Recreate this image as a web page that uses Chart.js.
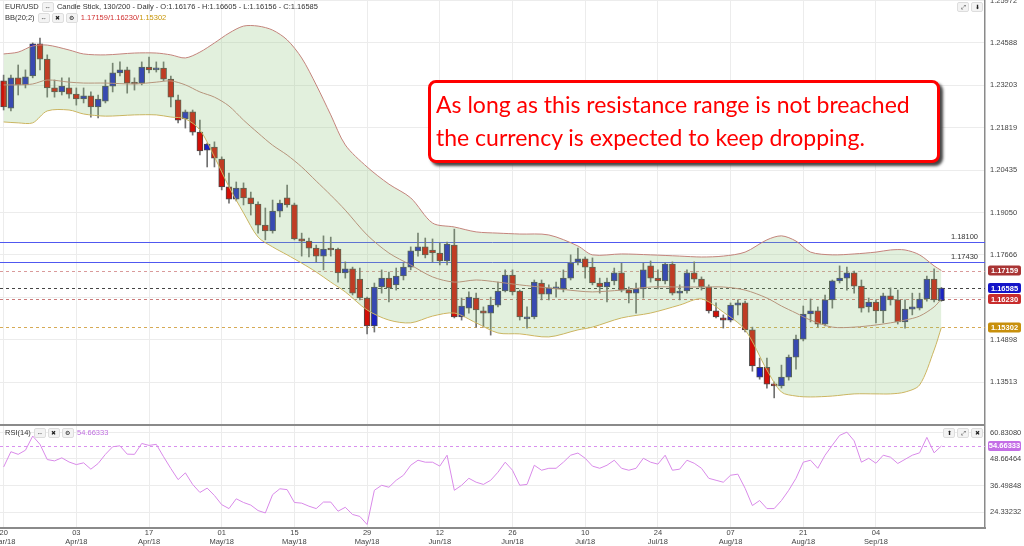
<!DOCTYPE html>
<html lang="en">
<head>
<meta charset="UTF-8" />
<title>EUR/USD Daily - Candle Stick</title>
<script src="https://cdn.jsdelivr.net/npm/chart.js"></script>
<style>
  body { margin: 0; background: #fff; font-family: "Liberation Sans", Arial, sans-serif; }
  #wrap { position: relative; width: 1024px; height: 546px; overflow: hidden; }
  .pane { position: absolute; left: 0; width: 1024px; }
  .hdr { position: absolute; left: 5px; font-size: 7.5px; color: #333; white-space: nowrap; }
  .btn { display: inline-block; width: 10px; height: 8px; line-height: 8px; text-align: center;
         font-size: 6px; background: #f3f3f3; border: 1px solid #ddd; border-radius: 2px;
         margin: 0 1px; vertical-align: middle; color: #222; }
  #note { position: absolute; left: 428px; top: 80px; width: 512px; height: 83px;
          border: 3px solid #f00; border-radius: 8px; background: #fff;
          box-shadow: 3px 3px 3px #444; color: #f00; font-family: Lato, "Open Sans", sans-serif;
          font-size: 23px; line-height: 33px; padding: 5px 0 0 5px; box-sizing: border-box; }
</style>
</head>
<body>
<div id="wrap">
  <div class="pane" style="top:0;height:424px"><canvas id="priceChart"></canvas></div>
  <div class="pane" style="top:424px;height:122px"><canvas id="rsiChart"></canvas></div>

  <div class="hdr" style="top:2px">EUR/USD <span class="btn">&#8660;</span> Candle Stick, 130/200 - Daily - O:1.16176 - H:1.16605 - L:1.16156 - C:1.16585</div>
  <div class="hdr" style="top:13px">BB(20;2) <span class="btn">&#8660;</span><span class="btn">&#10006;</span><span class="btn">&#9881;</span>
    <span style="color:#d03030">1.17159/1.16230/</span><span style="color:#c8960a">1.15302</span></div>
  <div class="hdr" style="top:2px;left:956px"><span class="btn">&#10530;</span><span class="btn">&#11015;</span></div>

  <div class="hdr" style="top:428px">RSI(14) <span class="btn">&#8660;</span><span class="btn">&#10006;</span><span class="btn">&#9881;</span>
    <span style="color:#c070e0">54.66333</span></div>
  <div class="hdr" style="top:428px;left:942px"><span class="btn">&#11014;</span><span class="btn">&#10530;</span><span class="btn">&#10006;</span></div>

  <div id="note">As long as this resistance range is not breached<br>the currency is expected to keep dropping.</div>
</div>

<script>
// date ticks (every 10th trading day)
const tickIndex = [0, 10, 20, 30, 40, 50, 60, 70, 80, 90, 100, 110, 120];
const tickLabels = [
  ["20", "Mar/18"], ["03", "Apr/18"], ["17", "Apr/18"], ["01", "May/18"], ["15", "May/18"],
  ["29", "May/18"], ["12", "Jun/18"], ["26", "Jun/18"], ["10", "Jul/18"], ["24", "Jul/18"],
  ["07", "Aug/18"], ["21", "Aug/18"], ["04", "Sep/18"]
];

// daily candles
const openP = [
  1.2335, 1.2246, 1.2345, 1.2322, 1.2351, 1.2456, 1.2406, 1.2312, 1.2299, 1.2312,
  1.2292, 1.2276, 1.2286, 1.2250, 1.2269, 1.2318, 1.2361, 1.2371, 1.2328, 1.2328,
  1.2380, 1.2371, 1.2377, 1.2341, 1.2273, 1.2211, 1.2234, 1.2168, 1.2109, 1.2119,
  1.2080, 1.1989, 1.1949, 1.1985, 1.1953, 1.1933, 1.1864, 1.1845, 1.1910, 1.1953,
  1.1930, 1.1819, 1.1812, 1.1789, 1.1763, 1.1789, 1.1786, 1.1708, 1.1721, 1.1688,
  1.1626, 1.1535, 1.1662, 1.1691, 1.1669, 1.1698, 1.1727, 1.1780, 1.1793, 1.1783,
  1.1773, 1.1747, 1.1799, 1.1564, 1.1593, 1.1626, 1.1584, 1.1577, 1.1603, 1.1649,
  1.1701, 1.1649, 1.1558, 1.1564, 1.1675, 1.1639, 1.1656, 1.1656, 1.1691, 1.1744,
  1.1754, 1.1727, 1.1675, 1.1662, 1.1682, 1.1708, 1.1652, 1.1642, 1.1656, 1.1731,
  1.1691, 1.1682, 1.1737, 1.1642, 1.1649, 1.1708, 1.1688, 1.1662, 1.1584, 1.1561,
  1.1554, 1.1603, 1.1610, 1.1522, 1.1368, 1.1400, 1.1345, 1.1339, 1.1368, 1.1433,
  1.1492, 1.1574, 1.1584, 1.1541, 1.1620, 1.1682, 1.1691, 1.1708, 1.1665, 1.1597,
  1.1613, 1.1584, 1.1633, 1.1620, 1.1548, 1.1590, 1.1593, 1.1623, 1.1688, 1.16176
];
const highP = [
  1.2354, 1.2354, 1.2387, 1.2371, 1.2459, 1.2475, 1.2420, 1.2338, 1.2345, 1.2345,
  1.2312, 1.2312, 1.2299, 1.2289, 1.2338, 1.2393, 1.2397, 1.2380, 1.2345, 1.2397,
  1.2413, 1.2397, 1.2397, 1.2351, 1.2289, 1.2240, 1.2240, 1.2207, 1.2132, 1.2136,
  1.2087, 1.2034, 1.2005, 1.2002, 1.1972, 1.1940, 1.1920, 1.1946, 1.1946, 1.1995,
  1.1936, 1.1838, 1.1822, 1.1799, 1.1829, 1.1825, 1.1789, 1.1744, 1.1727, 1.1724,
  1.1629, 1.1675, 1.1718, 1.1711, 1.1724, 1.1740, 1.1793, 1.1838, 1.1822, 1.1819,
  1.1806, 1.1809, 1.1851, 1.1626, 1.1646, 1.1642, 1.1597, 1.1629, 1.1678, 1.1718,
  1.1718, 1.1652, 1.1597, 1.1685, 1.1685, 1.1669, 1.1678, 1.1718, 1.1767, 1.1789,
  1.1760, 1.1757, 1.1691, 1.1691, 1.1724, 1.1740, 1.1662, 1.1675, 1.1740, 1.1747,
  1.1718, 1.1740, 1.1744, 1.1669, 1.1718, 1.1744, 1.1695, 1.1669, 1.1610, 1.1571,
  1.1610, 1.1620, 1.1616, 1.1531, 1.1430, 1.1430, 1.1352, 1.1407, 1.1440, 1.1505,
  1.1600, 1.1623, 1.1597, 1.1636, 1.1685, 1.1731, 1.1727, 1.1714, 1.1685, 1.1626,
  1.1620, 1.1642, 1.1659, 1.1652, 1.1620, 1.1642, 1.1642, 1.1698, 1.1721, 1.16605
];
const lowP = [
  1.2240, 1.2237, 1.2289, 1.2312, 1.2345, 1.2371, 1.2282, 1.2282, 1.2289, 1.2279,
  1.2256, 1.2263, 1.2217, 1.2214, 1.2263, 1.2299, 1.2351, 1.2295, 1.2305, 1.2322,
  1.2361, 1.2364, 1.2335, 1.2250, 1.2198, 1.2181, 1.2158, 1.2093, 1.2054, 1.2054,
  1.1979, 1.1936, 1.1943, 1.1930, 1.1897, 1.1838, 1.1816, 1.1838, 1.1891, 1.1923,
  1.1816, 1.1763, 1.1760, 1.1744, 1.1718, 1.1763, 1.1678, 1.1691, 1.1636, 1.1620,
  1.1509, 1.1515, 1.1642, 1.1613, 1.1652, 1.1685, 1.1718, 1.1763, 1.1757, 1.1744,
  1.1734, 1.1734, 1.1561, 1.1554, 1.1577, 1.1531, 1.1531, 1.1505, 1.1597, 1.1646,
  1.1636, 1.1554, 1.1528, 1.1558, 1.1620, 1.1620, 1.1629, 1.1646, 1.1685, 1.1734,
  1.1691, 1.1669, 1.1642, 1.1613, 1.1669, 1.1646, 1.1610, 1.1577, 1.1626, 1.1678,
  1.1656, 1.1672, 1.1636, 1.1620, 1.1642, 1.1678, 1.1652, 1.1577, 1.1561, 1.1528,
  1.1548, 1.1571, 1.1515, 1.1387, 1.1361, 1.1332, 1.1300, 1.1332, 1.1358, 1.1394,
  1.1486, 1.1548, 1.1531, 1.1535, 1.1593, 1.1675, 1.1652, 1.1642, 1.1580, 1.1580,
  1.1545, 1.1545, 1.1603, 1.1541, 1.1528, 1.1571, 1.1587, 1.1616, 1.1613, 1.16156
];
const closeP = [
  1.2250, 1.2345, 1.2322, 1.2348, 1.2456, 1.2406, 1.2312, 1.2299, 1.2318, 1.2292,
  1.2276, 1.2286, 1.2250, 1.2276, 1.2318, 1.2361, 1.2371, 1.2328, 1.2325, 1.2380,
  1.2371, 1.2377, 1.2341, 1.2282, 1.2207, 1.2234, 1.2168, 1.2106, 1.2129, 1.2083,
  1.1989, 1.1949, 1.1985, 1.1953, 1.1933, 1.1864, 1.1845, 1.1910, 1.1936, 1.1930,
  1.1819, 1.1812, 1.1789, 1.1763, 1.1786, 1.1783, 1.1708, 1.1721, 1.1642, 1.1626,
  1.1535, 1.1662, 1.1691, 1.1659, 1.1698, 1.1727, 1.1780, 1.1793, 1.1767, 1.1773,
  1.1747, 1.1802, 1.1564, 1.1600, 1.1629, 1.1587, 1.1577, 1.1603, 1.1649, 1.1701,
  1.1646, 1.1564, 1.1564, 1.1678, 1.1639, 1.1659, 1.1659, 1.1691, 1.1740, 1.1754,
  1.1727, 1.1675, 1.1662, 1.1678, 1.1708, 1.1652, 1.1642, 1.1656, 1.1718, 1.1691,
  1.1682, 1.1737, 1.1642, 1.1649, 1.1708, 1.1688, 1.1662, 1.1584, 1.1564, 1.1554,
  1.1603, 1.1610, 1.1522, 1.1404, 1.1400, 1.1345, 1.1339, 1.1368, 1.1433, 1.1492,
  1.1574, 1.1584, 1.1541, 1.1620, 1.1682, 1.1691, 1.1708, 1.1665, 1.1593, 1.1613,
  1.1584, 1.1633, 1.1620, 1.1548, 1.1590, 1.1597, 1.1623, 1.1688, 1.1620, 1.16585
];

// Bollinger bands (20;2), read at these candle positions
const bbIndex = [0, 2, 4, 6, 9, 11, 14, 18, 21, 23, 25, 27, 29, 31, 33, 35, 37, 39, 41, 43, 45, 47, 50,
  53, 56, 59, 62, 65, 68, 71, 75, 79, 81, 85, 89, 93, 96, 99, 102, 105, 107, 109, 111, 114, 117, 120,
  122, 124, 126, 128, 129];
const bbUpper = [1.2423, 1.2429, 1.2449, 1.2452, 1.2436, 1.2423, 1.2420, 1.2426, 1.2426, 1.2420, 1.2410,
  1.2429, 1.2459, 1.2491, 1.2514, 1.2514, 1.2501, 1.2469, 1.2410, 1.2322, 1.2224, 1.2126, 1.2054,
  1.1998, 1.1953, 1.1871, 1.1858, 1.1842, 1.1838, 1.1835, 1.1832, 1.1796, 1.1767, 1.1770, 1.1767,
  1.1763, 1.1760, 1.1763, 1.1776, 1.1816, 1.1829, 1.1812, 1.1776, 1.1767, 1.1770, 1.1776, 1.1783,
  1.1783, 1.1767, 1.1731, 1.17159];
const bbMid = [1.2322, 1.2322, 1.2325, 1.2338, 1.2331, 1.2328, 1.2328, 1.2325, 1.2331, 1.2335, 1.2322,
  1.2299, 1.2282, 1.2253, 1.2207, 1.2165, 1.2125, 1.2093, 1.2054, 1.2008, 1.1962, 1.1913, 1.1832,
  1.1773, 1.1734, 1.1695, 1.1678, 1.1685, 1.1678, 1.1669, 1.1659, 1.1649, 1.1646, 1.1652, 1.1662,
  1.1662, 1.1662, 1.1662, 1.1652, 1.1626, 1.1600, 1.1577, 1.1554, 1.1531, 1.1531, 1.1538, 1.1545,
  1.1554, 1.1567, 1.1597, 1.16230];
const bbLower = [1.2201, 1.2198, 1.2198, 1.2237, 1.2240, 1.2227, 1.2220, 1.2224, 1.2224, 1.2217, 1.2211,
  1.2175, 1.2087, 1.1989, 1.1904, 1.1825, 1.1793, 1.1767, 1.1740, 1.1711, 1.1678, 1.1646, 1.1587,
  1.1554, 1.1545, 1.1567, 1.1577, 1.1545, 1.1512, 1.1509, 1.1499, 1.1522, 1.1531, 1.1561, 1.1577,
  1.1603, 1.1623, 1.1580, 1.1522, 1.1391, 1.1319, 1.1306, 1.1303, 1.1306, 1.1313, 1.1313, 1.1313,
  1.1319, 1.1342, 1.1456, 1.15302];

// RSI(14)
const rsiValues = [
  45.0, 52.0, 50.8, 52.7, 59.2, 55.4, 48.4, 47.8, 49.2, 47.3,
  46.1, 46.9, 44.0, 46.6, 50.8, 54.3, 54.7, 50.9, 50.8, 55.8,
  54.9, 55.4, 49.7, 44.3, 39.2, 42.3, 37.0, 33.3, 35.3, 31.9,
  27.7, 25.9, 30.4, 28.7, 27.5, 25.0, 23.9, 32.3, 35.0, 34.6,
  28.7, 28.4, 27.0, 25.9, 28.9, 28.9, 24.7, 26.5, 23.2, 22.3,
  18.6, 34.3, 36.6, 35.7, 38.9, 41.2, 45.8, 48.1, 47.2, 47.2,
  45.4, 50.4, 34.3, 36.6, 39.8, 38.0, 37.0, 38.9, 42.6, 47.2,
  43.5, 36.6, 37.0, 45.8, 43.5, 44.4, 44.4, 47.2, 50.4, 51.4,
  49.0, 45.4, 44.4, 45.8, 48.1, 44.4, 43.5, 44.4, 49.0, 47.2,
  46.3, 50.4, 43.5, 44.0, 48.1, 46.7, 44.4, 39.8, 38.9, 38.0,
  41.2, 41.7, 35.2, 27.3, 29.6, 25.9, 25.9, 29.6, 34.3, 39.8,
  47.2, 48.1, 44.4, 50.4, 55.0, 59.5, 61.0, 57.0, 47.2, 49.0,
  46.7, 50.4, 49.5, 46.6, 48.5, 50.4, 51.5, 58.6, 51.5, 54.66333
];

// horizontal levels
const resistanceLevels = [1.18100, 1.17430];
const markerValues = [1.17159, 1.16585, 1.16230, 1.15302];
const markerColors = ["#a93434", "#1414c8", "#c82c2c", "#c8900c"];
const markerLineColors = ["#d99a9a", "#444", "#cc7a7a", "#d6aa55"];
const priceTicks = [1.13513, 1.14898, 1.16282, 1.17666, 1.19050, 1.20435, 1.21819, 1.23203, 1.24588, 1.25972];
const rsiTicks = [24.33232, 36.49848, 48.66464, 60.83080];
const rsiLast = 54.66333;

const axisFont = { family: "Liberation Sans", size: 7.5 };
const gridColor = "#ececec";

function badge(ctx, x, y, text, color) {
  ctx.fillStyle = color;
  ctx.beginPath();
  ctx.roundRect(x, y - 5, 33, 10, 2);
  ctx.fill();
  ctx.fillStyle = "#fff";
  ctx.font = "bold 7.5px Liberation Sans";
  ctx.textAlign = "center";
  ctx.textBaseline = "middle";
  ctx.fillText(text, x + 16.5, y + 0.5);
}

const candleIdx = openP.map((_, i) => i);
const up = candleIdx.map(i => closeP[i] >= openP[i]);

const xFit = scale => { scale.paddingLeft = 0; scale.paddingRight = 0; };

const priceLevels = {
  id: "priceLevels",
  beforeDatasetsDraw(chart) {
    const { ctx, chartArea: a, scales: { y } } = chart;
    ctx.save();
    resistanceLevels.forEach(v => {
      const py = Math.round(y.getPixelForValue(v)) + 0.5;
      ctx.strokeStyle = "#5058f0";
      ctx.lineWidth = 1;
      ctx.beginPath(); ctx.moveTo(a.left, py); ctx.lineTo(a.right, py); ctx.stroke();
      ctx.fillStyle = "#333";
      ctx.font = "7.5px Liberation Sans";
      ctx.textAlign = "right";
      ctx.textBaseline = "bottom";
      ctx.fillText(v.toFixed(5), a.right - 7, py - 2);
    });
    markerValues.forEach((v, i) => {
      const py = Math.round(y.getPixelForValue(v)) + 0.5;
      ctx.strokeStyle = markerLineColors[i];
      ctx.setLineDash([3, 3]);
      ctx.beginPath(); ctx.moveTo(a.left, py); ctx.lineTo(a.right, py); ctx.stroke();
    });
    ctx.restore();
  },
  afterDraw(chart) {
    const { ctx, chartArea: a, scales: { y } } = chart;
    ctx.save();
    markerValues.forEach((v, i) => badge(ctx, a.right + 3, y.getPixelForValue(v), v.toFixed(5), markerColors[i]));
    ctx.restore();
  }
};

new Chart(document.getElementById("priceChart"), {
  type: "bar",
  data: {
    datasets: [
      {
        type: "line", label: "BB upper", order: 0,
        data: bbIndex.map((x, k) => ({ x, y: bbUpper[k] })),
        borderColor: "#c4847c", borderWidth: 1, pointRadius: 0, tension: 0.3,
        fill: "+2", backgroundColor: "rgba(140,195,120,0.25)"
      },
      {
        type: "line", label: "BB mid", order: 0,
        data: bbIndex.map((x, k) => ({ x, y: bbMid[k] })),
        borderColor: "#c4847c", borderWidth: 1, pointRadius: 0, tension: 0.3, fill: false
      },
      {
        type: "line", label: "BB lower", order: 0,
        data: bbIndex.map((x, k) => ({ x, y: bbLower[k] })),
        borderColor: "#d5b35e", borderWidth: 1, pointRadius: 0, tension: 0.3, fill: false
      },
      {
        label: "wicks", order: 2, grouped: false,
        data: candleIdx.map(i => ({ x: i, y: [lowP[i], highP[i]] })),
        backgroundColor: "#707070", barThickness: 1
      },
      {
        label: "bodies", order: 1, grouped: false,
        data: candleIdx.map(i => ({ x: i, y: [openP[i], closeP[i]] })),
        backgroundColor: up.map(u => (u ? "#1c22c4" : "#d20f08")),
        borderColor: "#4a4a4a", borderWidth: 1, borderSkipped: false,
        barThickness: 6, minBarLength: 2
      }
    ]
  },
  options: {
    responsive: true, maintainAspectRatio: false, animation: false,
    layout: { padding: 0 },
    plugins: { legend: { display: false }, tooltip: { enabled: false } },
    scales: {
      x: {
        type: "linear", min: -0.5, max: 135, offset: false,
        afterBuildTicks: s => { s.ticks = tickIndex.map(v => ({ value: v })); },
        afterFit: s => { xFit(s); s.height = 0; },
        ticks: { display: false },
        grid: { color: gridColor, drawTicks: false, offset: false },
        border: { display: false }
      },
      y: {
        position: "right", min: 1.12147, max: 1.25992,
        afterBuildTicks: s => { s.ticks = priceTicks.map(v => ({ value: v })); },
        afterFit: s => { s.width = 39; s.paddingTop = 0; s.paddingBottom = 0; },
        ticks: { font: axisFont, color: "#444", padding: 5, callback: v => v.toFixed(5) },
        grid: { color: gridColor, drawTicks: false },
        border: { color: "#8a8a8a", width: 1.5 }
      }
    }
  },
  plugins: [priceLevels]
});

const rsiExtras = {
  id: "rsiExtras",
  beforeDatasetsDraw(chart) {
    const { ctx, chartArea: a, scales: { y } } = chart;
    ctx.save();
    const py = Math.round(y.getPixelForValue(rsiLast)) + 0.5;
    ctx.strokeStyle = "#d890ee";
    ctx.setLineDash([3, 3]);
    ctx.beginPath(); ctx.moveTo(a.left, py); ctx.lineTo(a.right, py); ctx.stroke();
    ctx.restore();
  },
  afterDraw(chart) {
    const { ctx, chartArea: a, scales: { y } } = chart;
    ctx.save();
    ctx.strokeStyle = "#8a8a8a";
    ctx.lineWidth = 2;
    ctx.beginPath(); ctx.moveTo(a.left, a.top + 1); ctx.lineTo(a.right, a.top + 1); ctx.stroke();
    badge(ctx, a.right + 3, y.getPixelForValue(rsiLast), rsiLast.toFixed(5), "#c46ee6");
    ctx.restore();
  }
};

new Chart(document.getElementById("rsiChart"), {
  type: "line",
  data: {
    datasets: [{
      label: "RSI(14)",
      data: candleIdx.map(i => ({ x: i, y: rsiValues[i] })),
      borderColor: "#d98ae9", borderWidth: 1, pointRadius: 0, tension: 0
    }]
  },
  options: {
    responsive: true, maintainAspectRatio: false, animation: false,
    layout: { padding: 0 },
    plugins: { legend: { display: false }, tooltip: { enabled: false } },
    scales: {
      x: {
        type: "linear", min: -0.5, max: 135,
        afterBuildTicks: s => { s.ticks = tickIndex.map(v => ({ value: v })); },
        afterFit: s => { xFit(s); s.height = 18; },
        ticks: {
          font: { family: "Liberation Sans", size: 7.5, lineHeight: 1.15 }, color: "#444",
          padding: 1, maxRotation: 0, autoSkip: false,
          callback: v => tickLabels[tickIndex.indexOf(v)]
        },
        grid: { color: gridColor, drawTicks: false },
        border: { color: "#8a8a8a", width: 2 }
      },
      y: {
        position: "right", min: 16.99, max: 64.73,
        afterBuildTicks: s => { s.ticks = rsiTicks.map(v => ({ value: v })); },
        afterFit: s => { s.width = 39; s.paddingTop = 0; s.paddingBottom = 0; },
        ticks: { font: axisFont, color: "#444", padding: 5, callback: v => v.toFixed(5) },
        grid: { color: gridColor, drawTicks: false },
        border: { color: "#8a8a8a", width: 1.5 }
      }
    }
  },
  plugins: [rsiExtras]
});
</script>
</body>
</html>
